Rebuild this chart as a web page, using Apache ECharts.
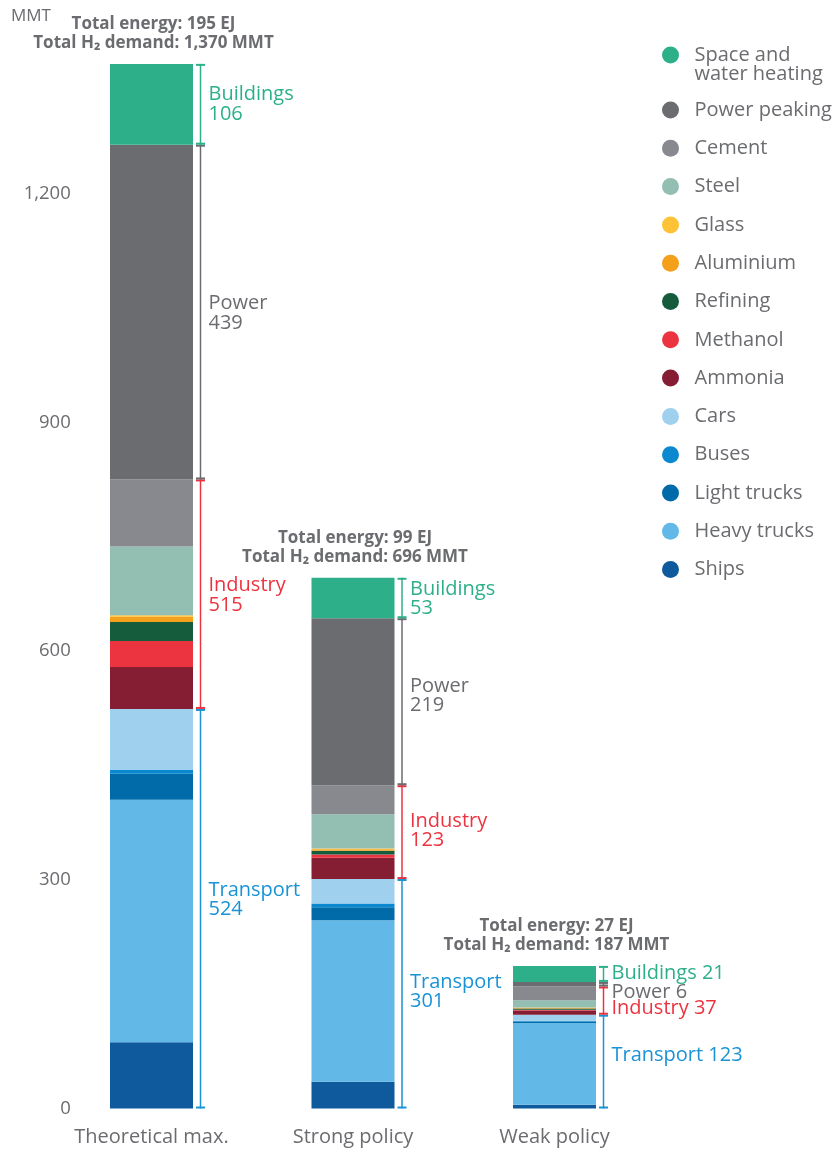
<!DOCTYPE html>
<html>
<head>
<meta charset="utf-8">
<script src="https://cdn.jsdelivr.net/npm/echarts@6/dist/echarts.min.js"></script>
<style>
  html, body { margin: 0; padding: 0; background: #ffffff; }
  #chart { width: 834px; height: 1150px; }
</style>
</head>
<body>
<div id="chart"></div>
<script>
// ---------------- DATA ----------------
const categories = ['Theoretical max.', 'Strong policy', 'Weak policy'];

// segment values in MMT (stack order bottom -> top)
const ships             = [87, 35, 5];
const heavyTrucks       = [318, 212, 107];
const lightTrucks       = [34, 17, 2];
const buses             = [5, 5, 1];
const cars              = [80, 32, 8];
const ammonia           = [55, 28, 5.5];
const methanol          = [34, 4, 1];
const refining          = [25, 5, 1.5];
const aluminium         = [7, 2, 1];
const glass             = [2, 1, 0.5];
const steel             = [90, 45, 9.5];
const cement            = [88, 38, 18];
const powerPeaking      = [439, 219, 6];
const spaceWaterHeating = [106, 53, 21];

const totalEnergyEJ = [195, 99, 27];
const totalH2MMT    = [1370, 696, 187];

const groupNames = ['Transport', 'Industry', 'Power', 'Buildings'];
const groupLabelValues = [
  [524, 515, 439, 106],
  [301, 123, 219, 53],
  [123, 37, 6, 21]
];
const yTicks = [0, 300, 600, 900, 1200];

// ---------------- SERIES DEFINITIONS ----------------
const segs = [
  { name: 'Ships', data: ships, color: '#0e5a9c', group: 0 },
  { name: 'Heavy trucks', data: heavyTrucks, color: '#62b9e8', group: 0 },
  { name: 'Light trucks', data: lightTrucks, color: '#006ba8', group: 0 },
  { name: 'Buses', data: buses, color: '#0a88d0', group: 0 },
  { name: 'Cars', data: cars, color: '#9fd0ee', group: 0 },
  { name: 'Ammonia', data: ammonia, color: '#851d33', group: 1 },
  { name: 'Methanol', data: methanol, color: '#ec3340', group: 1 },
  { name: 'Refining', data: refining, color: '#155c3c', group: 1 },
  { name: 'Aluminium', data: aluminium, color: '#f5a01a', group: 1 },
  { name: 'Glass', data: glass, color: '#fdc236', group: 1 },
  { name: 'Steel', data: steel, color: '#93beb2', group: 1 },
  { name: 'Cement', data: cement, color: '#87898e', group: 1 },
  { name: 'Power peaking', data: powerPeaking, color: '#6b6c70', group: 2 },
  { name: 'Space and water heating', data: spaceWaterHeating, color: '#2db08a', group: 3 }
];

const groupColors = ['#1a93d6', '#ec3340', '#6b6c70', '#2db08a'];
const textGray = '#6b6c70';
const FONT = '"Open Sans", "Noto Sans", sans-serif';
const BAR_W = 83;

// bracket data built from segments: [cat, start, end, group]
const bracketData = [];
categories.forEach((c, ci) => {
  let cum = 0;
  for (let g = 0; g < groupNames.length; g++) {
    const start = cum;
    segs.filter(s => s.group === g).forEach(s => { cum += s.data[ci]; });
    bracketData.push([ci, start, cum, g]);
  }
});

const totalsData = categories.map((c, ci) => [ci, totalH2MMT[ci]]);

// small vertical nudges of bracket labels (px) [cat][group]
const labelDy = [[-9, 1, 1, 0], [-2, -1.5, -6, 1], [-6, 8, 8, -1]];

const barSeries = segs.map(s => ({
  name: s.name,
  type: 'bar',
  stack: 'total',
  barWidth: BAR_W,
  data: s.data,
  itemStyle: { color: s.color },
  emphasis: { disabled: true }
}));

const fmt = v => String(v).replace(/\B(?=(\d{3})+(?!\d))/g, ',');

const bracketSeries = {
  type: 'custom',
  data: bracketData,
  encode: { x: 0, y: [1, 2] },
  silent: true,
  z: 5,
  renderItem: function (params, api) {
    const ci = api.value(0), s = api.value(1), e = api.value(2), g = api.value(3);
    const pb = api.coord([ci, s]);
    const pt = api.coord([ci, e]);
    const x = pb[0] + BAR_W / 2 + 7.5;
    const col = groupColors[g];
    const v = groupLabelValues[ci][g];
    const txt = ci === 2 ? groupNames[g] + ' ' + v : groupNames[g] + '\n' + v;
    return {
      type: 'group',
      children: [
        { type: 'line', shape: { x1: x, y1: pt[1], x2: x, y2: pb[1] }, style: { stroke: col, lineWidth: 1.5 } },
        { type: 'rect', shape: { x: x - 4.5, y: pt[1], width: 9, height: 2 }, style: { fill: col } },
        { type: 'rect', shape: { x: x - 4.5, y: pb[1] - 2, width: 9, height: 2 }, style: { fill: col } },
        { type: 'text', style: {
            text: txt, x: x + 8, y: (pt[1] + pb[1]) / 2 + labelDy[ci][g],
            fill: col, fontSize: 20, fontFamily: FONT, lineHeight: 19.5,
            align: 'left', verticalAlign: 'middle'
        } }
      ]
    };
  }
};

const totalsSeries = {
  type: 'custom',
  data: totalsData,
  encode: { x: 0, y: 1 },
  silent: true,
  z: 6,
  renderItem: function (params, api) {
    const ci = api.value(0);
    const p = api.coord([ci, api.value(1)]);
    return {
      type: 'text',
      style: {
        text: 'Total energy: ' + totalEnergyEJ[ci] + ' EJ\nTotal H\u2082 demand: ' + fmt(totalH2MMT[ci]) + ' MMT',
        x: p[0] + 2, y: p[1] - 11,
        fill: textGray, fontSize: 17, fontWeight: 'bold', fontFamily: FONT, lineHeight: 19,
        align: 'center', verticalAlign: 'bottom'
      }
    };
  }
};

const legendNames = segs.map(s => s.name).reverse();

const option = {
  animation: false,
  backgroundColor: '#ffffff',
  title: {
    text: 'MMT', left: 6, top: 3,
    textStyle: { fontSize: 17, fontWeight: 'normal', color: textGray, fontFamily: FONT }
  },
  legend: [
    {
      orient: 'vertical', left: 662, top: 26, padding: 0,
      itemWidth: 38, itemHeight: 17, icon: 'circle', selectedMode: false,
      data: [legendNames[0]],
      formatter: n => '\nSpace and\nwater heating',
      textStyle: { fontSize: 20, color: textGray, fontFamily: FONT, lineHeight: 19 }
    },
    {
      orient: 'vertical', left: 662, top: 100, padding: 0,
      itemWidth: 38, itemHeight: 17, itemGap: 18.3, icon: 'circle', selectedMode: false,
      data: legendNames.slice(1),
      textStyle: { fontSize: 20, color: textGray, fontFamily: FONT, lineHeight: 19 }
    }
  ],
  grid: { left: 50.75, width: 604.5, top: 41, bottom: 41.5, containLabel: false },
  xAxis: {
    type: 'category',
    data: categories,
    axisLine: { show: false },
    axisTick: { show: false },
    axisLabel: { fontSize: 20, color: textGray, fontFamily: FONT, margin: 19 }
  },
  yAxis: {
    type: 'value',
    min: 0, max: 1400, interval: 300,
    offset: -28,
    splitLine: { show: false },
    axisLine: { show: false },
    axisTick: { show: false },
    axisLabel: {
      fontSize: 18.5, color: textGray, fontFamily: FONT, margin: 8,
      formatter: v => yTicks.indexOf(v) >= 0 ? fmt(v) : ''
    }
  },
  series: barSeries.concat([bracketSeries, totalsSeries])
};

const chart = echarts.init(document.getElementById('chart'), null, { renderer: 'canvas' });
chart.setOption(option);
</script>
</body>
</html>
